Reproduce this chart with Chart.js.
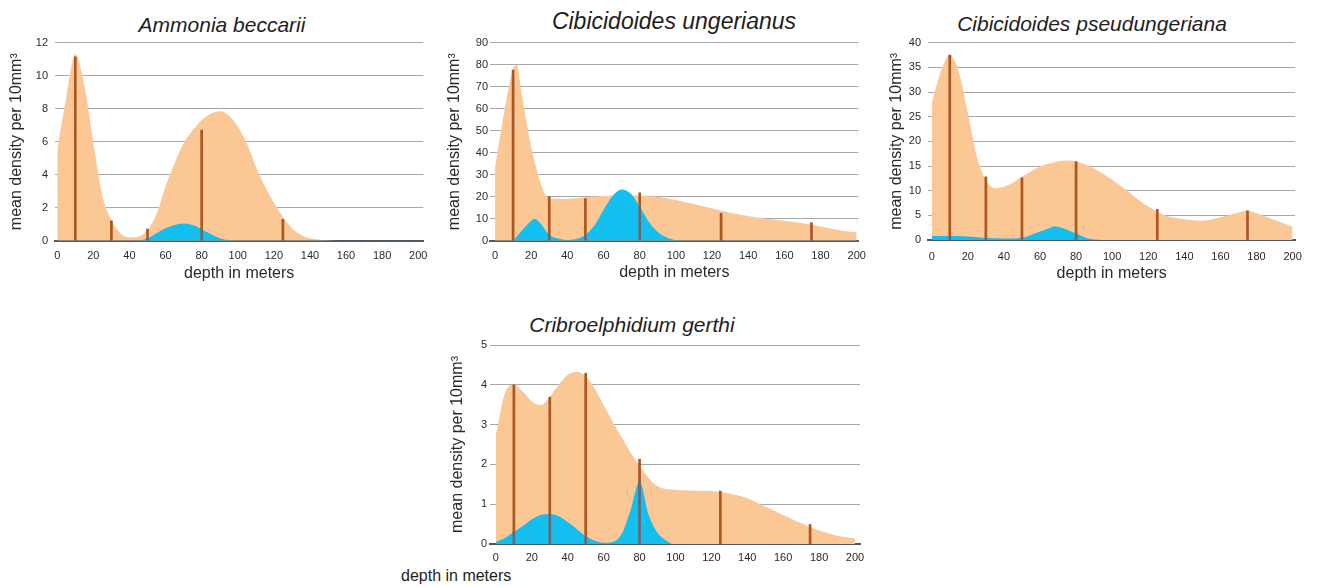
<!DOCTYPE html>
<html>
<head>
<meta charset="utf-8">
<script src="https://cdn.jsdelivr.net/npm/chart.js@4.4.1/dist/chart.umd.min.js"></script>
<style>
    body {
        margin: 0;
        width: 1317px;
        height: 587px;
        position: relative;
        overflow: hidden;
        background: #fff;
        font-family: "Liberation Sans", Arial, sans-serif;
    }
    canvas {
        position: absolute;
    }
    .titulo {
        position: absolute;
        font-style: italic;
        color: #1e1e1e;
        white-space: nowrap;
        line-height: 1;
        transform: translate(-50%, -50%);
    }
    .legendaX {
        position: absolute;
        font-size: 16px;
        color: #1e1e1e;
        white-space: nowrap;
        line-height: 1;
        transform: translateY(-50%);
    }
</style>
</head>
<body>

<div class="titulo" style="left:222px; top:23.5px; font-size:21px;">Ammonia beccarii</div>
<div class="titulo" style="left:674px; top:20.5px; font-size:23px;">Cibicidoides ungerianus</div>
<div class="titulo" style="left:1092px; top:23.4px; font-size:21px;">Cibicidoides pseudungeriana</div>
<div class="titulo" style="left:632px; top:324.4px; font-size:21px;">Cribroelphidium gerthi</div>
<div class="legendaX" style="left:401px; top:576.2px;">depth in meters</div>

<canvas id="graficoAmmonia"></canvas>
<canvas id="graficoUngerianus"></canvas>
<canvas id="graficoPseudungeriana"></canvas>
<canvas id="graficoGerthi"></canvas>

<script>
// eixo de profundidade e posições das hastes (amostras)
const profundidadeTicks = [0, 20, 40, 60, 80, 100, 120, 140, 160, 180, 200];
const hastesProf = [10, 30, 50, 80, 125, 175];

// Ammonia beccarii
const ammoniaProf = [0, 5, 10, 15, 20, 25, 30, 35, 40, 45, 50, 55, 60, 65, 70, 75, 80, 85, 90, 95, 100, 105, 110, 115, 120, 125, 130, 135, 140, 150, 160, 200];
const ammoniaTotal = [5.5, 8.7, 11.3, 9.4, 5.9, 2.7, 1.25, 0.45, 0.2, 0.25, 0.65, 1.6, 3.3, 4.7, 5.9, 6.7, 7.3, 7.7, 7.85, 7.6, 6.9, 5.9, 4.5, 3.3, 2.3, 1.45, 0.75, 0.35, 0.15, 0.03, 0, 0];
const ammoniaAzulProf = [45, 50, 55, 60, 65, 70, 75, 80, 85, 90, 95, 100];
const ammoniaAzul = [0, 0.15, 0.45, 0.75, 0.95, 1.05, 0.95, 0.7, 0.4, 0.15, 0.03, 0];
const ammoniaHastes = [11.15, 1.2, 0.7, 6.7, 1.3, 0];

// Cibicidoides ungerianus
const ungerianusProf = [0, 5, 10, 12, 15, 20, 25, 28, 30, 40, 50, 60, 70, 80, 90, 100, 110, 120, 130, 140, 150, 160, 170, 180, 190, 200];
const ungerianusTotal = [33, 58, 78, 80, 65.5, 42.7, 26.8, 20.5, 19.3, 19, 19.7, 20.3, 20.5, 20.5, 20, 18.5, 16.7, 14.7, 12.7, 11.2, 10, 9.1, 7.9, 6.4, 4.8, 3.8];
const ungerianusAzulProf = [10, 15, 20, 22, 25, 30, 35, 40, 45, 50, 55, 60, 65, 70, 75, 80, 85, 90, 95, 100, 105];
const ungerianusAzul = [0, 4.8, 9.1, 10, 7.9, 2.6, 1, 0.3, 0.8, 2.6, 7, 14, 20.3, 23.3, 21.5, 15.5, 8.6, 4, 1.5, 0.3, 0];
const ungerianusHastes = [77.5, 20, 19.2, 21.8, 12.4, 8.2];

// Cibicidoides pseudungeriana
const pseudungerianaProf = [0, 5, 10, 15, 20, 25, 30, 35, 40, 45, 50, 60, 70, 75, 80, 90, 100, 110, 120, 130, 140, 150, 160, 170, 175, 180, 190, 200];
const pseudungerianaTotal = [27.7, 34.1, 37.5, 34.1, 25.7, 16.9, 12.2, 10.5, 10.8, 11.6, 12.8, 14.9, 15.9, 16.1, 15.9, 14.5, 12.2, 9.5, 6.8, 4.9, 4.2, 3.9, 4.6, 5.6, 5.95, 5.4, 4.05, 2.7];
const pseudungerianaAzulProf = [0, 10, 20, 30, 40, 50, 55, 60, 65, 68, 70, 75, 80, 85, 90, 95];
const pseudungerianaAzul = [0.8, 0.8, 0.7, 0.4, 0.3, 0.4, 1.0, 1.7, 2.4, 2.8, 2.7, 2.1, 1.3, 0.5, 0.1, 0];
const pseudungerianaHastes = [37.5, 12.8, 12.6, 15.9, 6.2, 5.9];

// Cribroelphidium gerthi
const gerthiProf = [0, 5, 10, 15, 20, 25, 30, 35, 40, 45, 50, 55, 60, 65, 70, 75, 80, 85, 90, 100, 110, 120, 125, 130, 140, 150, 160, 170, 180, 190, 200];
const gerthiTotal = [2.74, 3.79, 4.0, 3.83, 3.58, 3.49, 3.7, 4.0, 4.25, 4.33, 4.22, 3.91, 3.49, 3.07, 2.68, 2.3, 1.97, 1.66, 1.45, 1.36, 1.34, 1.33, 1.31, 1.27, 1.15, 0.94, 0.73, 0.52, 0.34, 0.21, 0.14];
const gerthiAzulProf = [0, 5, 10, 15, 20, 25, 30, 35, 40, 45, 50, 55, 60, 65, 70, 75, 80, 85, 90, 95, 98];
const gerthiAzul = [0.05, 0.15, 0.3, 0.45, 0.62, 0.73, 0.75, 0.7, 0.55, 0.38, 0.2, 0.08, 0.03, 0.05, 0.25, 0.85, 1.57, 0.75, 0.28, 0.08, 0];
const gerthiHastes = [4.0, 3.69, 4.29, 2.13, 1.33, 0.49];

const corLaranja = '#fbc795';
const corAzul = '#12bfef';
const corHaste = '#a9561f';
const corHasteSobreAzul = '#6b6570';
const corGrade = '#a8a8a8';
const corEixo = '#4c5a68';
const corTexto = '#2a2a2a';

Chart.defaults.font.family = '"Liberation Sans", Arial, sans-serif';

function pontos(xs, ys) {
    return xs.map((x, i) => ({ x: x, y: ys[i] }));
}

function criarGrafico(cfg) {
    const [cl, ct, cw, ch] = cfg.caixa;
    const [al, at, ar, ab] = cfg.area;
    const canvas = document.getElementById(cfg.id);
    canvas.width = cw;
    canvas.height = ch;
    canvas.style.left = cl + 'px';
    canvas.style.top = ct + 'px';

    const larguraY = al - cl;
    const alturaX = ct + ch - ab;

    // trecho da haste que fica dentro da área azul
    const azulEm = d => {
        const i = cfg.azulProf.indexOf(d);
        return i < 0 ? 0 : cfg.azul[i];
    };
    const sobreAzul = cfg.hastes.map((v, i) => Math.min(v, azulEm(hastesProf[i])));

    return new Chart(canvas, {
        type: 'line',
        data: {
            datasets: [
                {
                    type: 'bar',
                    data: pontos(hastesProf, sobreAzul),
                    backgroundColor: corHasteSobreAzul,
                    barThickness: 2,
                    grouped: false,
                    order: 1,
                },
                {
                    data: pontos(cfg.azulProf, cfg.azul),
                    fill: 'origin',
                    backgroundColor: corAzul,
                    borderWidth: 0,
                    pointRadius: 0,
                    cubicInterpolationMode: 'monotone',
                    order: 2,
                },
                {
                    type: 'bar',
                    data: pontos(hastesProf, cfg.hastes),
                    backgroundColor: corHaste,
                    barThickness: 2,
                    grouped: false,
                    order: 3,
                },
                {
                    data: pontos(cfg.totalProf, cfg.total),
                    fill: 'origin',
                    backgroundColor: corLaranja,
                    borderWidth: 0,
                    pointRadius: 0,
                    cubicInterpolationMode: 'monotone',
                    order: 4,
                },
            ],
        },
        options: {
            responsive: false,
            animation: false,
            devicePixelRatio: 1,
            layout: {
                padding: { left: 0, top: at - ct, right: cl + cw - ar, bottom: 0 },
            },
            plugins: {
                legend: { display: false },
                tooltip: { enabled: false },
            },
            scales: {
                x: {
                    type: 'linear',
                    min: cfg.xMin,
                    max: cfg.xMax,
                    offset: false,
                    z: 1,
                    grid: { display: false, drawTicks: false, offset: false },
                    border: { display: true, color: corEixo, width: 2 },
                    afterBuildTicks: escala => {
                        escala.ticks = profundidadeTicks.map(v => ({ value: v }));
                    },
                    afterFit: escala => {
                        escala.height = alturaX;
                    },
                    ticks: {
                        padding: cfg.rotuloXY - ab - 6.6,
                        font: { size: 11 },
                        color: corTexto,
                        maxRotation: 0,
                        autoSkip: false,
                    },
                    title: {
                        display: cfg.tituloXY !== null,
                        text: 'depth in meters',
                        font: { size: 16 },
                        color: corTexto,
                        padding: { top: 0, bottom: alturaX - 9.6 - (cfg.tituloXY - ab) },
                    },
                },
                y: {
                    min: 0,
                    max: cfg.yMax,
                    afterFit: escala => {
                        escala.width = larguraY;
                    },
                    ticks: {
                        stepSize: cfg.yPasso,
                        padding: al - cfg.rotuloYX,
                        font: { size: 11 },
                        color: corTexto,
                    },
                    grid: { color: corGrade, lineWidth: 1, drawTicks: false },
                    border: { display: false },
                    title: {
                        display: true,
                        text: 'mean density per 10mm³',
                        font: { size: 16 },
                        color: corTexto,
                        padding: { top: cfg.tituloYX - cl - 9.6, bottom: 0 },
                    },
                },
            },
        },
    });
}

criarGrafico({
    id: 'graficoAmmonia',
    caixa: [3, 0, 445, 290],
    area: [55.1, 42.7, 423.3, 240.7],
    xMin: -1.2, xMax: 202.8, yMax: 12, yPasso: 2,
    rotuloYX: 48, rotuloXY: 256, tituloYX: 16.5, tituloXY: 273.8,
    totalProf: ammoniaProf, total: ammoniaTotal,
    azulProf: ammoniaAzulProf, azul: ammoniaAzul,
    hastes: ammoniaHastes,
});

criarGrafico({
    id: 'graficoUngerianus',
    caixa: [441, 0, 440, 290],
    area: [490.1, 42.7, 858.5, 240.7],
    xMin: -2.7, xMax: 201, yMax: 90, yPasso: 10,
    rotuloYX: 488, rotuloXY: 255.7, tituloYX: 455, tituloXY: 272.8,
    totalProf: ungerianusProf, total: ungerianusTotal,
    azulProf: ungerianusAzulProf, azul: ungerianusAzul,
    hastes: ungerianusHastes,
});

criarGrafico({
    id: 'graficoPseudungeriana',
    caixa: [883, 0, 429, 290],
    area: [928.3, 42.7, 1297.7, 240],
    xMin: -1.9, xMax: 201.4, yMax: 40, yPasso: 5,
    rotuloYX: 921, rotuloXY: 256.7, tituloYX: 897, tituloXY: 273.8,
    totalProf: pseudungerianaProf, total: pseudungerianaTotal,
    azulProf: pseudungerianaAzulProf, azul: pseudungerianaAzul,
    hastes: pseudungerianaHastes,
});

criarGrafico({
    id: 'graficoGerthi',
    caixa: [444, 300, 436, 275],
    area: [490, 345, 860, 544],
    xMin: -3.3, xMax: 202.8, yMax: 5, yPasso: 1,
    rotuloYX: 487, rotuloXY: 557.5, tituloYX: 458, tituloXY: null,
    totalProf: gerthiProf, total: gerthiTotal,
    azulProf: gerthiAzulProf, azul: gerthiAzul,
    hastes: gerthiHastes,
});
</script>
</body>
</html>
